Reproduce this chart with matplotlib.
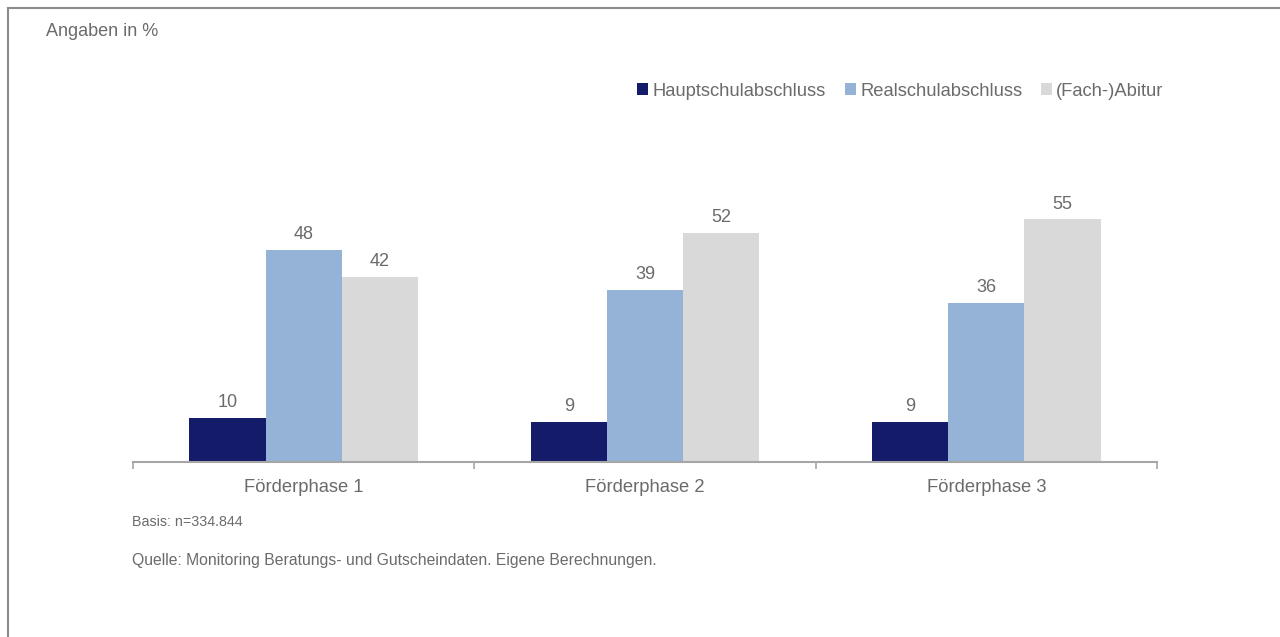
import matplotlib.pyplot as plt
import numpy as np
from matplotlib.lines import Line2D

# ---------- Daten ----------
phasen = ["Förderphase 1", "Förderphase 2", "Förderphase 3"]
serien = ["Hauptschulabschluss", "Realschulabschluss", "(Fach-)Abitur"]
haupt = [10, 9, 9]
real = [48, 39, 36]
abitur = [42, 52, 55]
farben = ["#141b69", "#95b3d7", "#d9d9d9"]

plt.rcParams['font.family'] = ['Liberation Sans', 'DejaVu Sans']
txt = "#6b6b6b"

W, H = 1280, 637
fig = plt.figure(figsize=(W / 100, H / 100), dpi=100)
ax = fig.add_axes([133 / W, 1 - 462 / H, 1024 / W, 264.6 / H])

x = np.arange(len(phasen))
bw = 0.223
for i, (werte, name) in enumerate(zip([haupt, real, abitur], serien)):
    pos = x + (i - 1) * bw
    bars = ax.bar(pos, werte, width=bw, color=farben[i], label=name, zorder=2)
    for b, v in zip(bars, werte):
        ax.annotate(str(v), (b.get_x() + b.get_width() / 2, v), xytext=(0, 5),
                    textcoords='offset points', ha='center', va='bottom',
                    fontsize=13, color=txt)

ax.set_xlim(-0.5, 2.5)
ax.set_ylim(0, 60)
ax.set_yticks([])
for s in ["top", "right", "left"]:
    ax.spines[s].set_visible(False)
ax.spines["bottom"].set_color("#a6a6a6")
ax.spines["bottom"].set_linewidth(1.5)
ax.set_xticks([-0.5, 0.5, 1.5, 2.5])
ax.set_xticklabels([])
ax.set_xticks(x, minor=True)
ax.set_xticklabels(phasen, minor=True, fontsize=13.2, color=txt)
ax.tick_params(axis='x', which='major', length=5, width=1.2, color="#a6a6a6")
ax.tick_params(axis='x', which='minor', length=0, pad=12)

fig.legend(loc='center right', bbox_to_anchor=(1180 / W, 1 - 91 / H), ncol=3,
           frameon=False, fontsize=13.2, labelcolor=txt, handlelength=0.6,
           handleheight=0.6, handletextpad=0.25, columnspacing=1.0)

fig.text(46 / W, 1 - 32 / H, "Angaben in %", fontsize=13, color=txt, va='center')
fig.text(132 / W, 1 - 522 / H, "Basis: n=334.844", fontsize=10.3, color=txt, va='center')
fig.text(132 / W, 1 - 561 / H, "Quelle: Monitoring Beratungs- und Gutscheindaten. Eigene Berechnungen.",
         fontsize=11.3, color=txt, va='center')

# Rahmen oben und links
fig.add_artist(Line2D([8 / W, 1], [1 - 8 / H, 1 - 8 / H], color="#8c8c8c", lw=1.5))
fig.add_artist(Line2D([8 / W, 8 / W], [0, 1 - 8 / H], color="#8c8c8c", lw=1.5))

fig.savefig("out.png", dpi=100)
